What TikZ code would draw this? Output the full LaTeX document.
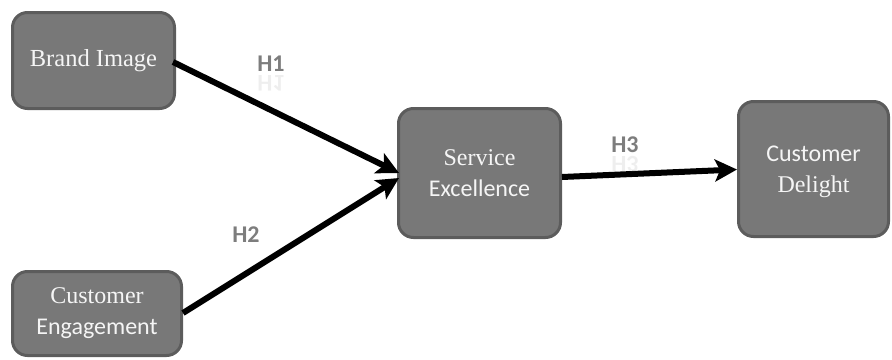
\documentclass[tikz,border=0pt]{standalone}
\usepackage{fontspec}
\setmainfont{Liberation Serif}
\newfontfamily\calibrifont{Carlito}
\newfontfamily\timesfont{Liberation Serif}
\usetikzlibrary{arrows.meta,calc}
\definecolor{boxfill}{RGB}{120,120,120}
\definecolor{boxline}{RGB}{92,92,92}
\definecolor{boxtext}{RGB}{245,245,245}
\definecolor{hyptext}{RGB}{125,125,125}
\tikzset{
  factor/.style={draw=boxline, line width=3pt, fill=boxfill, rounded corners=15pt,
    text=boxtext, align=center, inner sep=0pt,
    font=\fontsize{24}{31}\selectfont},
  link/.style={line width=6pt, -{Stealth[length=22pt,width=22pt,inset=5pt]}},
  hyp/.style={text=hyptext, font=\calibrifont\bfseries\fontsize{24}{24}\selectfont, inner sep=0pt},
  hypmirror/.style={hyp, yscale=-1, opacity=0.13}
}
\begin{document}
\begin{tikzpicture}[x=1pt,y=-1pt]
\useasboundingbox (0,0) rectangle (892,359);

% constructs
\node[factor, minimum width=162pt, minimum height=96pt] (brand) at (93.5,60.5)
  {\timesfont\fontsize{24.5}{31}\selectfont Brand Image};
\node[factor, minimum width=169pt, minimum height=84pt] (engage) at (97,313.5)
  {\timesfont Customer\\[0pt]\calibrifont Engagement};
\node[factor, minimum width=162pt, minimum height=129pt] (service) at (479.5,173)
  {\timesfont Service\\[0pt]\calibrifont Excellence};
\node[factor, minimum width=150pt, minimum height=135pt] (delight) at (813.5,169) {};
\node[align=center, text=boxtext, inner sep=0pt, font=\fontsize{24}{31}\selectfont]
  (delighttext) at (813.5,172) {\calibrifont Customer\\[0pt]\timesfont Delight};

% hypothesised paths
\draw[link] ($(brand.east)+(-3,1.5)$) -- ($(service.west)+(2,0)$);
\draw[link] ($(engage.east)+(0,-0.5)$) -- ($(service.west)+(2,5)$);
\draw[link] ($(service.east)+(0,4)$) -- ($(delight.west)+(0,0.5)$);

% path labels
\node[hyp] (h1) at (271,64) {H1};
\node[hypmirror] (h1r) at (271,83) {H1};
\node[hyp] (h2) at (246,235) {H2};
\node[hyp] (h3) at (625,145) {H3};
\node[hypmirror] (h3r) at (625,164) {H3};
\end{tikzpicture}
\end{document}
